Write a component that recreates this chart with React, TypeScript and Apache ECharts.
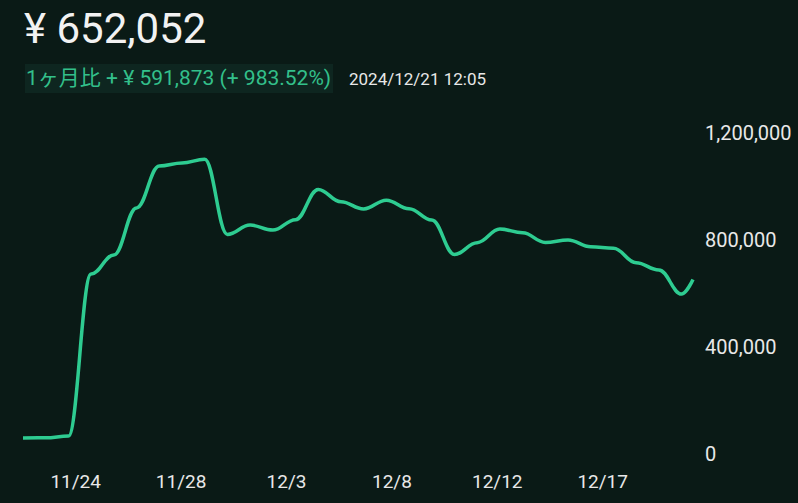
import React, { useEffect, useRef } from 'react';
import * as echarts from 'echarts';

const dates: string[] = [
  '2024-11-22', '2024-11-23', '2024-11-24', '2024-11-25', '2024-11-26', '2024-11-27',
  '2024-11-28', '2024-11-29', '2024-11-30', '2024-12-01', '2024-12-02', '2024-12-03',
  '2024-12-04', '2024-12-05', '2024-12-06', '2024-12-07', '2024-12-08', '2024-12-09',
  '2024-12-10', '2024-12-11', '2024-12-12', '2024-12-13', '2024-12-14', '2024-12-15',
  '2024-12-16', '2024-12-17', '2024-12-18', '2024-12-19', '2024-12-20', '2024-12-21',
  '2024-12-21 12:05',
];

const values: number[] = [
  60179, 60500, 67000, 673000, 744000, 920000,
  1077000, 1088000, 1102000, 821000, 856000, 837000,
  876000, 989000, 943000, 916000, 949000, 917000,
  875000, 746000, 790000, 841000, 827000, 791000,
  800000, 775000, 769000, 715000, 688000, 598000,
  652052,
];

const xTickLabels: string[] = ['11/24', '11/28', '12/3', '12/8', '12/12', '12/17'];
const yTicks: number[] = [0, 400000, 800000, 1200000];

const headerValue = '¥ 652,052';
const changeText = '1ヶ月比 + ¥ 591,873 (+ 983.52%)';
const timestampText = '2024/12/21 12:05';

const FONT = "Roboto, 'Noto Sans CJK JP', sans-serif";

function toTs(s: string): number {
  const [d, t] = s.split(' ');
  const [y, m, day] = d.split('-').map(Number);
  let hh = 0, mm = 0;
  if (t) { [hh, mm] = t.split(':').map(Number); }
  return new Date(y, m - 1, day, hh, mm).getTime();
}

export default function App() {
  const ref = useRef<HTMLDivElement>(null);
  useEffect(() => {
    document.body.style.margin = '0';
    if (!ref.current) return;
    const chart = echarts.init(ref.current, null, { renderer: 'svg' });
    const data = dates.map((d, i) => [toTs(d), values[i]]);
    chart.setOption({
      animation: false,
      backgroundColor: '#0a1a16',
      grid: { left: 23, right: 105, top: 133, bottom: 49 },
      xAxis: [
        {
          type: 'time',
          min: toTs(dates[0]),
          max: toTs(dates[dates.length - 1]),
          show: false,
        },
        {
          type: 'value',
          min: -0.5,
          max: 5.857,
          interval: 0.5,
          position: 'bottom',
          axisLine: { show: false },
          axisTick: { show: false },
          splitLine: { show: false },
          axisLabel: {
            color: '#e8e8e8',
            fontSize: 19,
            fontFamily: FONT,
            margin: 18,
            showMinLabel: false,
            showMaxLabel: false,
            formatter: (v: number) => {
              const r = Math.round(v * 2);
              if (r % 2 !== 0) return '';
              return xTickLabels[r / 2] ?? '';
            },
          },
        },
      ],
      yAxis: {
        type: 'value',
        position: 'right',
        min: yTicks[0],
        max: yTicks[yTicks.length - 1],
        interval: yTicks[1] - yTicks[0],
        axisLine: { show: false },
        axisTick: { show: false },
        splitLine: { show: false },
        axisLabel: {
          color: '#e8e8e8',
          fontSize: 20,
          fontFamily: FONT,
          margin: 12,
          formatter: (v: number) => v.toLocaleString('en-US'),
        },
      },
      series: [
        {
          type: 'line',
          xAxisIndex: 0,
          data,
          smooth: 0.4,
          smoothMonotone: 'x',
          showSymbol: false,
          lineStyle: { color: '#2ecc91', width: 3.5 },
        },
      ],
      graphic: [
        {
          type: 'text',
          left: 24,
          top: 7,
          style: { text: headerValue, fill: '#f2f2f2', font: `42px ${FONT}` },
        },
        {
          type: 'rect',
          shape: { x: 25, y: 64, width: 308, height: 29 },
          style: { fill: '#0e2620' },
        },
        {
          type: 'text',
          left: 26,
          top: 67,
          style: { text: changeText, fill: '#33c08b', font: `21px ${FONT}` },
        },
        {
          type: 'text',
          left: 349,
          top: 70,
          style: { text: timestampText, fill: '#e8e8e8', font: `17px ${FONT}` },
        },
      ],
    });
    return () => chart.dispose();
  }, []);
  return <div ref={ref} style={{ width: 798, height: 503 }} />;
}
